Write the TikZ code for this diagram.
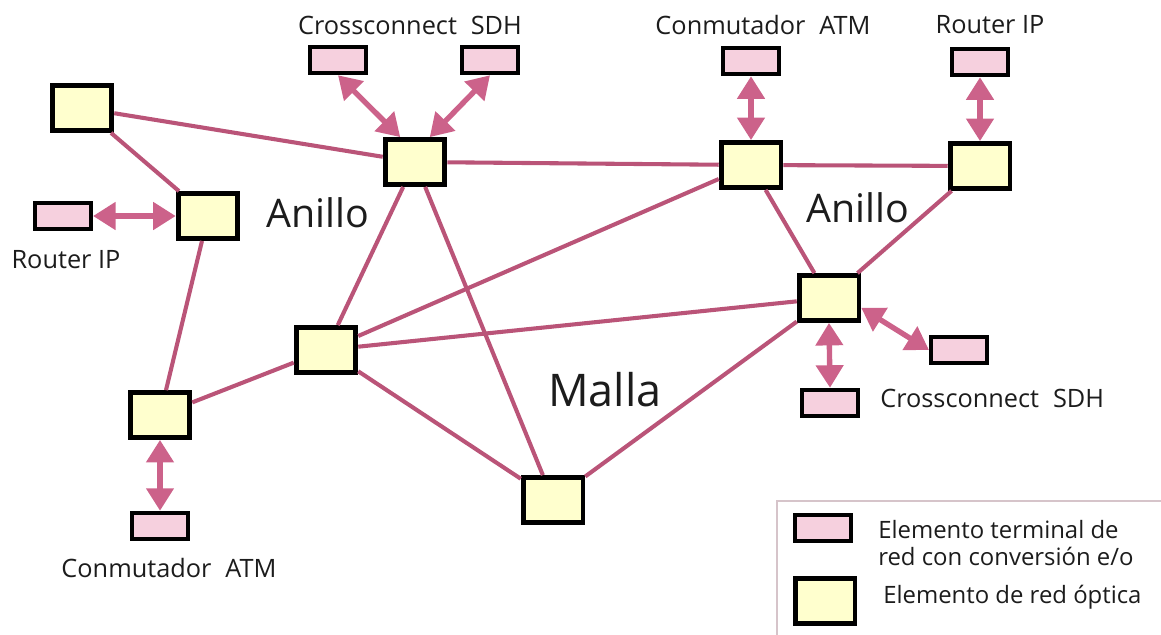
\documentclass[tikz,border=0pt]{standalone}
\usepackage{fontspec}
\setmainfont{Open Sans}
\usetikzlibrary{arrows.meta,positioning}

\definecolor{enlacecol}{RGB}{186,84,120}
\definecolor{flechacol}{RGB}{204,98,138}
\definecolor{termfill}{RGB}{246,208,222}
\definecolor{opticfill}{RGB}{255,255,206}
\definecolor{textocol}{RGB}{28,28,28}
\definecolor{marcocol}{RGB}{214,196,202}

\tikzset{
  optico/.style={draw=black, line width=3.4pt, fill=opticfill,
    minimum width=42.5pt, minimum height=32pt, inner sep=0pt},
  terminal/.style={draw=black, line width=3.2pt, fill=termfill,
    minimum width=39.5pt, minimum height=18.5pt, inner sep=0pt},
  enlace/.style={enlacecol, line width=2.9pt},
  conexion/.style={flechacol, line width=3.8pt,
    {Triangle[length=16pt,width=19pt]}-{Triangle[length=16pt,width=19pt]}},
  etiqueta/.style={font=\fontsize{18}{21}\selectfont, text=textocol, inner sep=0pt},
  zona/.style={font=\fontsize{28}{32}\selectfont, text=textocol, inner sep=0pt},
  leyenda/.style={font=\fontsize{17}{19}\selectfont, text=textocol,
    inner sep=0pt, align=left, anchor=west},
}
\newcommand{\hueco}{\hspace{0.55em}}

\begin{document}
\begin{tikzpicture}[x=0.025cm, y=-0.025cm]
    \useasboundingbox (0,0) rectangle (1161,634);

    % elementos de red optica
    \node[optico] (a) at (82,108)  {};
    \node[optico] (b) at (208,216) {};
    \node[optico] (c) at (415,162) {};
    \node[optico] (d) at (751,165) {};
    \node[optico] (e) at (980,166) {};
    \node[optico] (f) at (829,298) {};
    \node[optico] (g) at (326,350) {};
    \node[optico] (h) at (160,415) {};
    \node[optico] (i) at (553,500) {};

    % enlaces de fibra
    \draw[enlace] (a) -- (c);
    \draw[enlace] (a) -- (b);
    \draw[enlace] (b) -- (h);
    \draw[enlace] (h) -- (g);
    \draw[enlace] (g) -- (c);
    \draw[enlace] (c) -- (i);
    \draw[enlace] (g) -- (d);
    \draw[enlace] (g) -- (f);
    \draw[enlace] (g) -- (i);
    \draw[enlace] (c) -- (d);
    \draw[enlace] (d) -- (e);
    \draw[enlace] (d) -- (f);
    \draw[enlace] (e) -- (f);
    \draw[enlace] (f) -- (i);

    % elementos terminales
    \node[terminal] (t1) at (338,60)  {};
    \node[terminal] (t2) at (490,60)  {};
    \node[terminal] (t3) at (751,61)  {};
    \node[terminal] (t4) at (980,62)  {};
    \node[terminal] (t5) at (63,216)  {};
    \node[terminal] (t6) at (959,350) {};
    \node[terminal] (t7) at (830,403) {};
    \node[terminal] (t8) at (160,526) {};

    \draw[conexion] (t1.south) -- ([xshift=-10.5pt]c.north);
    \draw[conexion] (t2.south) -- ([xshift=10.5pt]c.north);
    \draw[conexion] (t3) -- (d);
    \draw[conexion] (t4) -- (e);
    \draw[conexion] (t5) -- (b);
    \draw[conexion] ([yshift=-7pt]f.east) -- (t6.west);
    \draw[conexion] (f.south) -- (t7.north);
    \draw[conexion] (h) -- (t8);

    % rotulos
    \node[etiqueta] at (410,25)  {Crossconnect\hueco SDH};
    \node[etiqueta] at (763,25)  {Conmutador\hueco ATM};
    \node[etiqueta] at (990,25)  {Router IP};
    \node[etiqueta] at (66,260)  {Router IP};
    \node[etiqueta, anchor=west] at (880,398) {Crossconnect\hueco SDH};
    \node[etiqueta] at (169,568) {Conmutador\hueco ATM};
    \node[zona] at (318,213) {Anillo};
    \node[zona] at (858,208) {Anillo};
    \node[zona, font=\fontsize{32}{36}\selectfont] at (605,390) {Malla};

    % leyenda
    \draw[marcocol, line width=0.8pt] (777,640) -- (777,501) -- (1170,501);
    \node[terminal] (lt) at (823,528) {};
    \node[optico]   (lo) at (825,601) {};
    \node[leyenda] at (878,543) {Elemento terminal de\\red con conversión e/o};
    \node[leyenda] at (883,597) {Elemento de red óptica};
\end{tikzpicture}
\end{document}
